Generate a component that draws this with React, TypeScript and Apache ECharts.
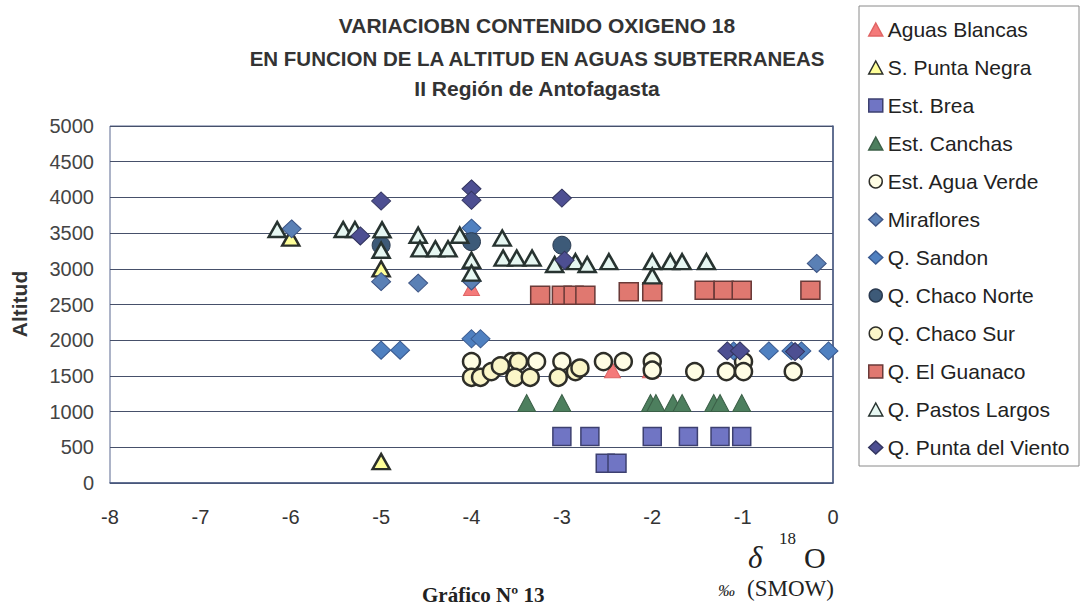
import React, { useEffect, useRef } from "react";
import * as echarts from "echarts";

type Pt = [number, number];

const TITLE_LINES = [
  "VARIACIOBN CONTENIDO OXIGENO 18",
  "EN FUNCION DE LA ALTITUD EN AGUAS SUBTERRANEAS",
  "II Región de Antofagasta",
];
const Y_LABEL = "Altitud";
const CAPTION = "Gráfico Nº 13";

const aguasBlancas: Pt[] = [[-4.0, 2730], [-2.44, 1580], [-2.02, 1580]];
const sPuntaNegra: Pt[] = [[-6.0, 3430], [-5.0, 3000], [-5.0, 300]];
const estBrea: Pt[] = [
  [-3.0, 650], [-2.69, 650], [-2.0, 650], [-1.6, 650], [-1.25, 650], [-1.01, 650],
  [-2.52, 275], [-2.39, 275],
];
const estCanchas: Pt[] = [
  [-3.39, 1120], [-3.0, 1120], [-2.02, 1120], [-1.96, 1120], [-1.77, 1120],
  [-1.67, 1120], [-1.32, 1120], [-1.25, 1120], [-1.01, 1120],
];
const estAguaVerde: Pt[] = [
  [-4.0, 1700], [-3.55, 1700], [-3.28, 1700], [-3.0, 1700], [-2.54, 1700],
  [-2.32, 1700], [-2.0, 1700], [-2.0, 1580], [-1.53, 1560], [-1.18, 1560],
  [-0.99, 1700], [-0.99, 1560], [-0.44, 1560],
];
const miraflores: Pt[] = [[-5.99, 3560], [-5.0, 2820], [-4.59, 2800], [-4.0, 2830], [-0.18, 3075]];
const qSandon: Pt[] = [
  [-5.0, 1860], [-4.79, 1860], [-4.0, 2020], [-3.9, 2020], [-4.0, 3570],
  [-1.1, 1850], [-0.71, 1850], [-0.46, 1850], [-0.35, 1850], [-0.05, 1850],
];
const qChacoNorte: Pt[] = [[-5.0, 3330], [-4.0, 3380], [-3.0, 3330]];
const qChacoSur: Pt[] = [
  [-4.0, 1480], [-3.9, 1480], [-3.78, 1560], [-3.68, 1640], [-3.48, 1700],
  [-3.52, 1480], [-3.35, 1480], [-3.04, 1480], [-2.85, 1560], [-2.8, 1610],
];
const qElGuanaco: Pt[] = [
  [-3.24, 2630], [-3.0, 2630], [-2.87, 2630], [-2.74, 2630], [-2.26, 2680],
  [-2.0, 2680], [-1.42, 2700], [-1.21, 2700], [-1.01, 2700], [-0.25, 2700],
];
const qPastosLargos: Pt[] = [
  [-6.15, 3550], [-5.42, 3550], [-5.29, 3550], [-4.99, 3545], [-5.0, 3260],
  [-4.59, 3470], [-4.57, 3280], [-4.4, 3280], [-4.26, 3280], [-4.13, 3470],
  [-4.0, 3120], [-4.0, 2940], [-3.66, 3430], [-3.65, 3150], [-3.5, 3150],
  [-3.33, 3150], [-3.08, 3060], [-2.85, 3100], [-2.72, 3060], [-2.48, 3100],
  [-2.0, 3100], [-2.0, 2900], [-1.8, 3100], [-1.67, 3100], [-1.4, 3100],
];
const qPuntaDelViento: Pt[] = [
  [-5.0, 3950], [-5.23, 3460], [-4.0, 4120], [-4.0, 3960], [-3.0, 3990],
  [-2.97, 3120], [-1.17, 1850], [-1.03, 1850], [-0.42, 1840],
];

const SERIES_DEFS = [
  { name: "Aguas Blancas", data: aguasBlancas, symbol: "triangle", size: [16, 15], fill: "#f47a7a", stroke: "#e06464", bw: 1 },
  { name: "S. Punta Negra", data: sPuntaNegra, symbol: "triangle", size: [17, 15], fill: "#ffff99", stroke: "#2b2f2a", bw: 2.5 },
  { name: "Est. Brea", data: estBrea, symbol: "rect", size: [18, 18], fill: "#7075c4", stroke: "#3d4070", bw: 1.5 },
  { name: "Est. Canchas", data: estCanchas, symbol: "triangle", size: [18, 17], fill: "#4d7f5e", stroke: "#3b5f47", bw: 1 },
  { name: "Est. Agua Verde", data: estAguaVerde, symbol: "circle", size: [17, 17], fill: "#fffde4", stroke: "#2e2e28", bw: 2.5 },
  { name: "Miraflores", data: miraflores, symbol: "diamond", size: [19, 18], fill: "#5a80b5", stroke: "#3e5585", bw: 1 },
  { name: "Q. Sandon", data: qSandon, symbol: "diamond", size: [19, 18], fill: "#4f80c0", stroke: "#3a5a90", bw: 1 },
  { name: "Q. Chaco Norte", data: qChacoNorte, symbol: "circle", size: [18, 18], fill: "#3d5a78", stroke: "#2a3a50", bw: 1 },
  { name: "Q. Chaco Sur", data: qChacoSur, symbol: "circle", size: [17, 17], fill: "#fbf6c8", stroke: "#2e2e28", bw: 2.5 },
  { name: "Q. El Guanaco", data: qElGuanaco, symbol: "rect", size: [19, 18], fill: "#e07870", stroke: "#6a3a38", bw: 1.5 },
  { name: "Q. Pastos Largos", data: qPastosLargos, symbol: "triangle", size: [17, 15], fill: "#e6f7f2", stroke: "#273330", bw: 2.5 },
  { name: "Q. Punta del Viento", data: qPuntaDelViento, symbol: "diamond", size: [19, 18], fill: "#4d4f92", stroke: "#33355f", bw: 1 },
];

const SANS = "'Liberation Sans', Arial, sans-serif";
const SERIF = "'Liberation Serif', 'Times New Roman', serif";

export default function App() {
  const ref = useRef<HTMLDivElement>(null);
  useEffect(() => {
    document.body.style.margin = "0";
    const chart = echarts.init(ref.current!, null, { renderer: "svg" });
    const option: any = {
      animation: false,
      backgroundColor: "#ffffff",
      grid: {
        left: 110, right: 248, top: 126, bottom: 123,
        show: true, borderColor: "#5a6890", borderWidth: 1,
      },
      xAxis: {
        type: "value", min: -8, max: 0, interval: 1,
        axisLine: { show: true, onZero: false, lineStyle: { color: "#4a5a80", width: 1.5 } },
        axisTick: { show: false },
        splitLine: { show: false },
        axisLabel: { fontSize: 20, fontFamily: SANS, color: "#333", margin: 24 },
      },
      yAxis: {
        type: "value", min: 0, max: 5000, interval: 500,
        axisLine: { show: true, lineStyle: { color: "#4a5a80", width: 1.5 } },
        axisTick: { show: false },
        splitLine: { show: true, lineStyle: { color: "#46506a", width: 1.2 } },
        axisLabel: { fontSize: 20, fontFamily: SANS, color: "#444", margin: 16, formatter: (v: number) => String(v) },
      },
      legend: {
        orient: "vertical", left: 863, top: 14,
        itemWidth: 14, itemHeight: 13, itemGap: 17,
        selectedMode: false,
        itemStyle: { borderWidth: 1.5 },
        textStyle: { fontSize: 21, fontFamily: SANS, color: "#222", lineHeight: 21 },
        data: SERIES_DEFS.map((s) => s.name),
      },
      series: SERIES_DEFS.map((s) => ({
        name: s.name,
        type: "scatter",
        data: s.data,
        symbol: s.symbol,
        symbolSize: s.size,
        itemStyle: { color: s.fill, borderColor: s.stroke, borderWidth: s.bw, opacity: 1 },
        emphasis: { disabled: true },
      })),
      graphic: [
        { type: "rect", shape: { x: 859, y: 6, width: 220, height: 460 }, style: { fill: "none", stroke: "#8a8a8a", lineWidth: 1 } },
        ...TITLE_LINES.map((t, i) => ({
          type: "text", x: 537, y: [25, 58, 88][i],
          style: { text: t, fontSize: [21, 20.5, 21][i], fontWeight: "bold", fontFamily: SANS, fill: "#333", align: "center", verticalAlign: "middle" },
        })),
        { type: "text", x: 19, y: 304, rotation: Math.PI / 2,
          style: { text: Y_LABEL, fontSize: 21, fontWeight: "bold", fontFamily: SANS, fill: "#333", align: "center", verticalAlign: "middle" } },
        { type: "text", x: 748, y: 557, style: { text: "δ", fontSize: 31, fontStyle: "italic", fontFamily: SERIF, fill: "#222", align: "left", verticalAlign: "middle" } },
        { type: "text", x: 779, y: 538, style: { text: "18", fontSize: 17, fontFamily: SERIF, fill: "#222", align: "left", verticalAlign: "middle" } },
        { type: "text", x: 804, y: 557, style: { text: "O", fontSize: 30, fontFamily: SERIF, fill: "#222", align: "left", verticalAlign: "middle" } },
        { type: "text", x: 718, y: 590, style: { text: "‰", fontSize: 17, fontStyle: "italic", fontFamily: SERIF, fill: "#222", align: "left", verticalAlign: "middle" } },
        { type: "text", x: 834, y: 588, style: { text: "(SMOW)", fontSize: 23, fontFamily: SERIF, fill: "#222", align: "right", verticalAlign: "middle" } },
        { type: "text", x: 422, y: 605, style: { text: CAPTION, fontSize: 21, fontWeight: "bold", fontFamily: SERIF, fill: "#222", align: "left", verticalAlign: "bottom" } },
      ],
    };
    chart.setOption(option);
    return () => chart.dispose();
  }, []);
  return <div ref={ref} style={{ width: 1081, height: 606 }} />;
}
